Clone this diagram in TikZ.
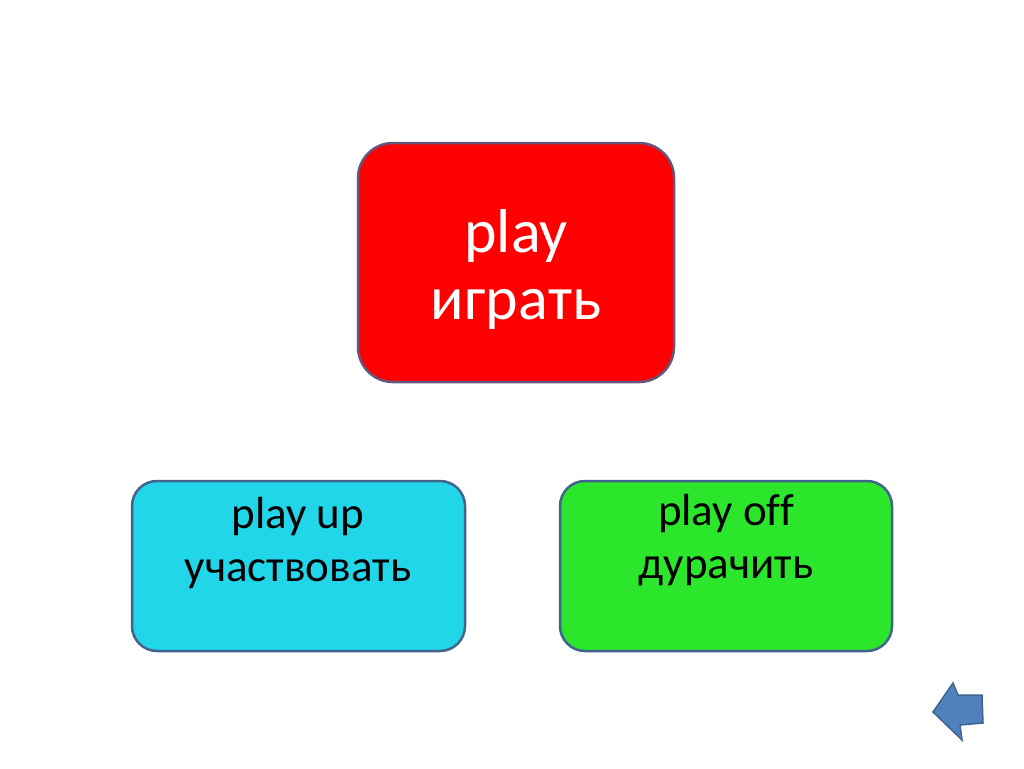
\documentclass[tikz,border=0pt]{standalone}
\usepackage{fontspec}
\setmainfont{Carlito}[Ligatures=NoCommon]
\definecolor{boxred}{RGB}{255,0,0}
\definecolor{boxcyan}{RGB}{34,214,234}
\definecolor{boxgreen}{RGB}{44,230,44}
\definecolor{edgeblue}{RGB}{65,100,140}
\definecolor{edgepurple}{RGB}{100,85,125}
\definecolor{arrowblue}{RGB}{79,129,189}
\tikzset{
  wordbox/.style={draw=edgeblue, line width=2.5pt, rounded corners=25pt},
  bigword/.style={font={\fontsize{62}{67}\selectfont}, align=center, text=white},
  smallword/.style={font={\fontsize{45}{53}\selectfont}, align=center, text=black}
}
\begin{document}
\begin{tikzpicture}[x=1pt,y=-1pt]
    % Page
    \useasboundingbox (0,0) rectangle (1024,768);
    \fill[white] (0,0) rectangle (1024,768);

    % Main word
    \node[wordbox, draw=edgepurple, fill=boxred, rounded corners=35pt,
      minimum width=316pt, minimum height=239pt] (play) at (516,262.5) {};
    \node[bigword] (playText) at (516,269) {play\\играть};

    % Phrasal verbs
    \node[wordbox, fill=boxcyan, minimum width=333pt, minimum height=170pt] (up) at (298.5,566) {};
    \node[smallword] (upText) at (298,543) {play up\\участвовать};

    \node[wordbox, fill=boxgreen, minimum width=332pt, minimum height=170pt] (off) at (726,566) {};
    \node[smallword] (offText) at (726,540) {play off\\дурачить};

    % Back arrow
    \filldraw[fill=arrowblue, draw=edgeblue, line width=1.5pt, line join=miter]
      (933,712) -- (953,683) -- (958,695) -- (982,695) -- (983,723)
      -- (960,725) -- (962,740) -- cycle;
\end{tikzpicture}
\end{document}
